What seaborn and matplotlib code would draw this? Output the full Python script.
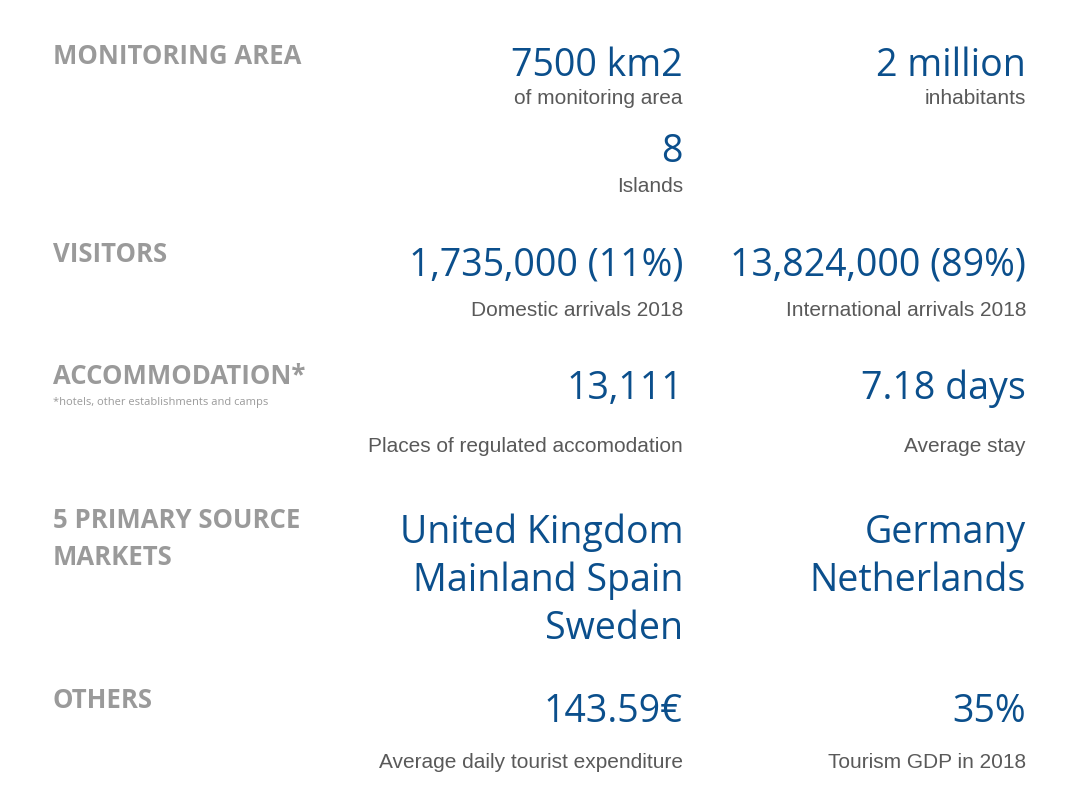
import matplotlib

matplotlib.use("Agg")

import matplotlib.pyplot as plt
import seaborn as sns

sns.set_theme(style="white")

BLUE = "#0b4f8c"
HEAD_GREY = "#9a9a9a"
CAP_GREY = "#595959"

# section headings (text, y centre)
headings = ["MONITORING AREA", "VISITORS", "ACCOMMODATION*", "5 PRIMARY SOURCE\nMARKETS", "OTHERS"]
heading_y = [57, 254, 377, 539, 700]
heading_note = "*hotels, other establishments and camps"

# figures: (value, caption, column, value y, caption y)
values = ["7500 km2", "2 million", "8", "1,735,000 (11%)", "13,824,000 (89%)",
          "13,111", "7.18 days", "United Kingdom\nMainland Spain\nSweden",
          "Germany\nNetherlands", "143.59€", "35%"]
captions = ["of monitoring area", "inhabitants", "Islands", "Domestic arrivals 2018",
            "International arrivals 2018", "Places of regulated accomodation",
            "Average stay", "", "", "Average daily tourist expenditure", "Tourism GDP in 2018"]
columns = [0, 1, 0, 0, 1, 0, 1, 0, 1, 0, 1]
value_top = [46, 46, 132, 246, 246, 369, 369, 513, 513, 693, 693]
caption_y = [99, 99, 186, 310, 310, 447, 447, 0, 0, 763, 763]
column_x = [683, 1026]

fig = plt.figure(figsize=(10.76, 7.99), dpi=100)
ax = fig.add_axes([0, 0, 1, 1])
ax.set_xlim(0, 1076)
ax.set_ylim(799, 0)
ax.axis("off")

for text, y in zip(headings, heading_y):
    ax.text(53, y, text, color=HEAD_GREY, fontsize=18.5, fontweight="bold",
            fontfamily="Open Sans", ha="left", va="center", linespacing=1.45)
ax.text(53, 403, heading_note, color=HEAD_GREY, fontsize=8,
        fontfamily="Open Sans", ha="left", va="center")

for val, cap, col, vy, cy in zip(values, captions, columns, value_top, caption_y):
    x = column_x[col]
    ax.text(x, vy, val, color=BLUE, fontsize=27, fontfamily="Open Sans",
            ha="right", va="top", multialignment="right", linespacing=1.33)
    if cap:
        ax.text(x, cy, cap, color=CAP_GREY, fontsize=15, fontfamily="Liberation Sans",
                ha="right", va="center")

fig.savefig("out.png", dpi=100, facecolor="white")
plt.close(fig)
